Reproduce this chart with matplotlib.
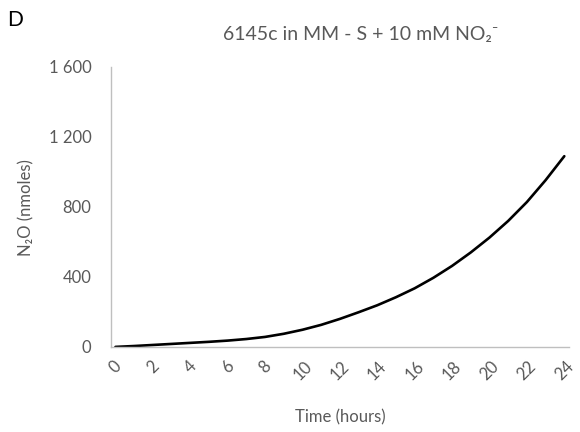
import matplotlib.pyplot as plt
from matplotlib.ticker import FuncFormatter

plt.rcParams["font.family"] = ["Lato", "DejaVu Sans"]

# N2O production, 6145c in MM - S + 10 mM NO2-
hours = list(range(0, 25))
n2o = [0, 5, 11, 17, 23, 29, 36, 45, 57, 75, 98, 126, 160, 198, 238,
       284, 335, 395, 463, 540, 625, 720, 828, 953, 1090]
x_ticks = list(range(0, 25, 2))
y_ticks = [0, 400, 800, 1200, 1600]

grey = "#595959"

fig = plt.figure(figsize=(5.8, 4.32), dpi=100)
ax = fig.add_axes([0.191, 0.197, 0.79, 0.648])

ax.plot(hours, n2o, color="black", linewidth=1.9, solid_capstyle="round")

ax.set_xlim(-0.25, 24.25)
ax.set_ylim(0, 1600)
ax.set_xticks(x_ticks)
ax.set_yticks(y_ticks)
ax.yaxis.set_major_formatter(FuncFormatter(lambda v, p: f"{int(v):,}".replace(",", " ")))

for side in ["top", "right"]:
    ax.spines[side].set_visible(False)
for side in ["left", "bottom"]:
    ax.spines[side].set_color("#BFBFBF")
    ax.spines[side].set_linewidth(1.0)

ax.tick_params(axis="both", length=0, labelcolor=grey, labelsize=12)
ax.tick_params(axis="y", pad=14)
ax.tick_params(axis="x", pad=8)
plt.setp(ax.get_xticklabels(), rotation=45, ha="center")

fig.text(0.622, 0.919, "6145c in MM - S + 10 mM NO\u2082\u207b",
         ha="center", va="center", fontsize=14, color=grey)
fig.text(0.026, 0.953, "D", ha="center", va="center", fontsize=15, color="black")
fig.text(0.586, 0.033, "Time (hours)", ha="center", va="center", fontsize=12, color=grey)
fig.text(0.046, 0.52, "N\u2082O (nmoles)", ha="center", va="center", rotation=90,
         fontsize=12, color=grey)

fig.savefig("out.png", dpi=100)
